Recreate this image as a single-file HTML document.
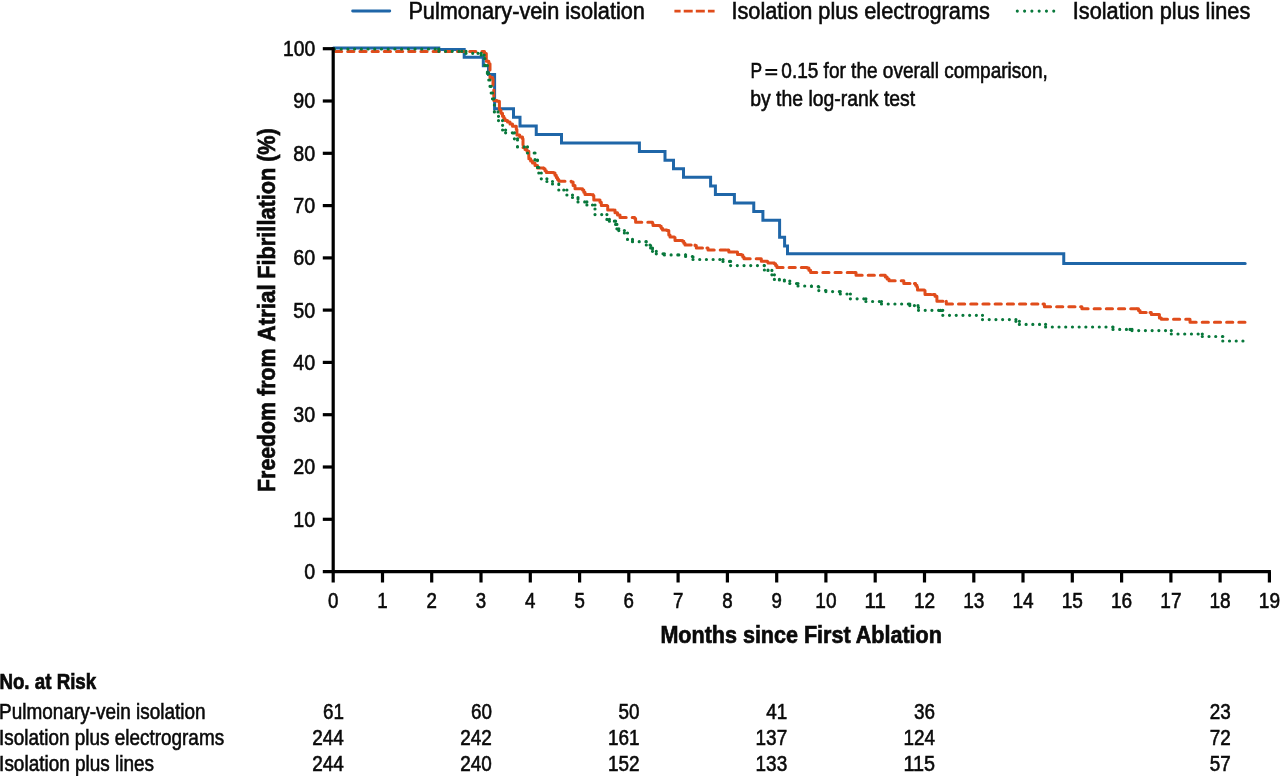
<!DOCTYPE html><html><head><meta charset="utf-8"><title>Kaplan-Meier</title>
<style>html,body{margin:0;padding:0;background:#fff;}body{width:1280px;height:776px;overflow:hidden;}svg{display:block;}text{font-family:"Liberation Sans",sans-serif;fill:#0a0a0a;}</style></head><body>
<svg style="will-change:transform" width="1280" height="776" viewBox="0 0 1280 776">
<rect width="1280" height="776" fill="#fff"/>
<line x1="352.6" y1="11" x2="389.8" y2="11" stroke="#1f66a8" stroke-width="2.8" stroke-linecap="round"/>
<text x="408.4" y="18.8" font-size="24.1" textLength="236.5" lengthAdjust="spacingAndGlyphs" stroke="#0a0a0a" stroke-width="0.6">Pulmonary-vein isolation</text>
<line x1="674.4" y1="11.1" x2="714.6" y2="11.1" stroke="#e04c1b" stroke-width="2.9" stroke-dasharray="9 3.1" stroke-dashoffset="2.8"/>
<text x="731.4" y="18.8" font-size="24.1" textLength="258.5" lengthAdjust="spacingAndGlyphs" stroke="#0a0a0a" stroke-width="0.6">Isolation plus electrograms</text>
<line x1="1017.3" y1="11.1" x2="1054.5" y2="11.1" stroke="#08783b" stroke-width="3.1" stroke-dasharray="0.01 7.28" stroke-linecap="round"/>
<text x="1072.8" y="18.8" font-size="24.1" textLength="177.5" lengthAdjust="spacingAndGlyphs" stroke="#0a0a0a" stroke-width="0.6">Isolation plus lines</text>
<text x="750.4" y="77.6" font-size="22.8" textLength="11.6" lengthAdjust="spacingAndGlyphs" stroke="#0a0a0a" stroke-width="0.6">P</text>
<path d="M765.4,70.0 H777.2 M765.4,74.3 H777.2" stroke="#0a0a0a" stroke-width="1.9" fill="none"/>
<text x="781.3" y="77.6" font-size="22.8" textLength="266.5" lengthAdjust="spacingAndGlyphs" stroke="#0a0a0a" stroke-width="0.6">0.15 for the overall comparison,</text>
<text x="750.2" y="106.4" font-size="22.8" textLength="165" lengthAdjust="spacingAndGlyphs" stroke="#0a0a0a" stroke-width="0.6">by the log-rank test</text>
<path d="M333.4,48.0 H438.8 V49.4 H464.2 V57.3 H483.3 V65.8 H488.5 V74.4 H494.6 V108.7 H513.5 V117.3 H520 V125.9 H536.25 V134.4 H561.5 V143.0 H639.4 V151.6 H665 V160.2 H673.5 V168.7 H683.5 V177.3 H710.6 V185.9 H715.4 V194.5 H734.4 V203.0 H753.75 V211.6 H762.9 V220.2 H779.6 V237.3 H784.6 V245.9 H787.5 V253.7 H1063.75 V263.6 H1245.2" fill="none" stroke="#1f66a8" stroke-width="3.0" stroke-linejoin="miter" stroke-linecap="round"/>
<path d="M335.5,51.5L483.5,51.5M483.5,51.5L484.5,51.5M484.5,51.5L484.5,53.5M484.5,53.5L486.3,53.5M486.3,53.5L486.3,61.2M486.3,61.2L488.8,61.2M488.8,61.2L488.8,63.8M488.8,63.8L490.0,63.8M490.0,63.8L490.0,77.5M490.0,77.5L492.5,77.5M492.5,77.5L492.5,78.8M493.0,78.8L493.0,90.0M493.8,90.0L493.8,100.4M493.8,100.4L497.0,100.4M497.0,100.4L497.0,101.3M497.0,101.3L499.4,101.3M499.4,101.3L499.4,102.5M499.4,102.5L499.4,110.0M499.4,110.0L500.9,110.0M500.9,110.0L500.9,113.2M500.9,113.2L502.5,113.2M502.5,113.2L502.5,116.3M502.5,116.3L503.8,116.3M503.8,116.3L503.8,118.4M503.8,118.4L505.0,118.4M505.0,118.4L505.0,120.6M505.0,120.6L507.5,120.6M507.5,120.6L507.5,121.9M507.5,121.9L510.0,121.9M510.0,121.9L510.0,124.1M510.0,124.1L512.5,124.1M512.5,124.1L512.5,126.3M512.5,126.3L516.3,126.3M516.3,126.3L516.3,129.4M516.9,129.4L516.9,135.0M516.9,135.0L519.7,135.0M519.7,135.0L519.7,136.9M519.7,136.9L522.5,136.9M522.5,136.9L522.5,138.8M523.0,138.8L523.0,147.5M523.0,147.5L525.0,147.5M525.0,147.5L525.0,149.4M525.0,149.4L526.9,149.4M526.9,149.4L526.9,151.3M526.9,151.3L528.8,151.3M528.8,151.3L528.8,158.8M528.8,158.8L530.6,158.8M530.6,158.8L530.6,160.9M530.6,160.9L532.5,160.9M532.5,160.9L532.5,163.0M532.5,163.0L535.0,163.0M535.0,163.0L535.0,165.5M535.0,165.5L537.5,165.5M537.5,165.5L537.5,168.0M537.5,168.0L543.8,168.0M543.8,168.0L543.8,168.8M543.8,168.8L545.0,168.8M545.0,168.8L545.0,170.7M545.0,170.7L546.3,170.7M546.3,170.7L546.3,172.5M546.3,172.5L553.8,172.5M553.8,172.5L553.8,173.0M553.8,173.0L555.0,173.0M555.0,173.0L555.0,175.2M555.0,175.2L556.3,175.2M556.3,175.2L556.3,177.5M556.3,177.5L557.5,177.5M557.5,177.5L557.5,179.4M557.5,179.4L558.8,179.4M558.8,179.4L558.8,181.3M558.8,181.3L571.3,181.3M571.3,181.3L571.3,182.0M571.3,182.0L573.1,182.0M573.1,182.0L573.1,185.4M573.1,185.4L575.0,185.4M575.0,185.4L575.0,188.8M575.0,188.8L582.5,188.8M582.5,188.8L582.5,190.0M582.5,190.0L583.8,190.0M583.8,190.0L583.8,192.2M583.8,192.2L585.0,192.2M585.0,192.2L585.0,194.4M585.0,194.4L593.0,194.4M593.0,194.4L593.0,195.6M593.8,195.6L593.8,200.0M593.8,200.0L600.0,200.0M600.0,200.0L600.0,202.2M600.0,202.2L601.3,202.2M601.3,202.2L601.3,205.6M601.3,205.6L607.2,205.6M607.2,205.6L607.2,206.0M607.7,206.0L607.7,210.0M607.7,210.0L615.0,210.0M615.0,210.0L615.0,212.7M615.0,212.7L617.5,212.7M617.5,212.7L617.5,215.1M617.5,215.1L620.0,215.1M620.0,215.1L620.0,217.6M620.0,217.6L634.7,217.6M634.7,217.6L634.7,218.5M635.6,218.5L635.6,222.2M635.6,222.2L652.5,222.2M652.5,222.2L652.5,223.5M653.0,223.5L653.0,225.6M653.0,225.6L660.0,225.6M660.0,225.6L660.0,226.3M660.0,226.3L661.2,226.3M661.2,226.3L661.2,228.2M661.2,228.2L662.5,228.2M662.5,228.2L662.5,230.0M662.5,230.0L666.9,230.0M666.9,230.0L666.9,230.6M666.9,230.6L668.8,230.6M668.8,230.6L668.8,235.0M668.8,235.0L670.0,235.0M670.0,235.0L670.0,236.9M670.0,236.9L674.4,236.9M674.4,236.9L674.4,237.5M675.0,237.5L675.0,240.6M675.0,240.6L682.5,240.6M682.5,240.6L682.5,241.3M682.5,241.3L683.8,241.3M683.8,241.3L683.8,243.2M683.8,243.2L685.0,243.2M685.0,243.2L685.0,245.0M685.0,245.0L695.0,245.0M695.0,245.0L695.0,245.6M695.0,245.6L696.3,245.6M696.3,245.6L696.3,248.0M696.3,248.0L706.9,248.0M706.9,248.0L708.0,248.0M708.0,248.0L708.0,250.0M708.0,250.0L727.5,250.0M727.5,250.0L728.8,250.0M728.8,250.0L728.8,251.9M728.8,251.9L736.3,251.9M736.3,251.9L737.5,251.9M737.5,251.9L737.5,254.5M737.5,254.5L741.5,254.5M741.5,254.5L741.5,255.0M741.5,255.0L742.8,255.0M742.8,255.0L742.8,256.9M742.8,256.9L744.0,256.9M744.0,256.9L744.0,258.8M744.0,258.8L760.6,258.8M761.3,258.8L761.3,261.3M761.3,261.3L767.5,261.3M767.5,261.3L767.5,261.9M768.0,261.9L768.0,263.0M768.0,263.0L774.4,263.0M774.4,263.0L774.4,263.7M774.4,263.7L775.6,263.7M775.6,263.7L775.6,265.6M775.6,265.6L776.9,265.6M776.9,265.6L776.9,267.5M776.9,267.5L807.2,267.5M807.2,267.5L807.2,267.9M807.2,267.9L808.9,267.9M808.9,267.9L808.9,270.2M808.9,270.2L810.6,270.2M810.6,270.2L810.6,272.5M810.6,272.5L854.4,272.5M854.4,272.5L856.0,272.5M856.0,272.5L856.0,275.2M856.0,275.2L883.4,275.2M883.4,275.2L885.3,275.2M885.3,275.2L885.3,277.1M885.3,277.1L887.1,277.1M887.1,277.1L887.1,278.9M887.1,278.9L889.0,278.9M889.0,278.9L889.0,280.8M889.0,280.8L901.9,280.8M901.9,280.8L903.8,280.8M903.8,280.8L903.8,283.5M903.8,283.5L914.4,283.5M914.4,283.5L915.6,283.5M915.6,283.5L915.6,285.2M915.6,285.2L916.9,285.2M916.9,285.2L916.9,286.9M917.5,286.9L917.5,290.0M917.5,290.0L924.4,290.0M924.4,290.0L924.4,290.6M925.0,290.6L925.0,294.4M925.0,294.4L933.0,294.4M933.0,294.4L935.0,294.4M935.0,294.4L935.0,296.2M935.0,296.2L936.9,296.2M936.9,296.2L936.9,298.0M936.9,298.0L936.9,301.2M936.9,301.2L945.6,301.2M946.3,301.2L946.3,304.0M946.3,304.0L1043.0,304.0M1043.0,304.0L1044.4,304.0M1044.4,304.0L1044.4,306.7M1044.4,306.7L1080.6,306.7M1080.6,306.7L1081.9,306.7M1081.9,306.7L1081.9,308.7M1081.9,308.7L1137.0,308.7M1137.0,308.7L1138.5,308.7M1138.5,308.7L1138.5,310.5M1138.5,310.5L1140.0,310.5M1140.0,310.5L1140.0,312.4M1140.0,312.4L1150.0,312.4M1150.0,312.4L1151.3,312.4M1151.3,312.4L1151.3,314.4M1151.3,314.4L1158.0,314.4M1158.0,314.4L1159.4,314.4M1159.4,314.4L1159.4,318.0M1159.4,318.0L1161.3,318.0M1161.3,318.0L1161.3,319.3M1161.3,319.3L1189.4,319.3M1190.0,319.3L1190.0,322.3M1190.0,322.3L1247.5,322.3" fill="none" stroke="#e04c1b" stroke-width="3.0" stroke-dasharray="6.2 6" stroke-linecap="round"/>
<path d="M334.5,49.0L438.8,49.0M438.8,49.0L438.8,51.3M438.8,51.3L462.0,51.3M462.0,51.3L466.0,51.3M466.0,51.3L466.0,53.3M466.0,53.3L478.0,53.3M478.0,53.3L481.2,53.3M481.2,53.3L481.2,55.1M481.2,55.1L484.2,55.1M484.2,55.1L484.2,58.5M484.8,58.5L484.8,65.5M484.8,65.5L487.4,65.5M487.4,65.5L487.4,73.5M487.4,73.5L488.8,73.5M488.8,73.5L488.8,80.0M488.8,80.0L490.0,80.0M490.0,80.0L490.0,86.3M490.0,86.3L491.2,86.3M491.2,86.3L491.2,93.0M491.2,93.0L492.5,93.0M492.5,93.0L492.5,98.8M492.5,98.8L493.7,98.8M493.7,98.8L493.7,105.0M494.4,105.0L494.4,111.9M494.4,111.9L498.0,111.9M498.0,111.9L498.0,116.3M498.5,116.3L498.5,120.6M498.5,120.6L502.5,120.6M502.5,120.6L502.5,125.3M502.6,125.3L502.6,130.0M502.6,130.0L505.6,130.0M505.6,130.0L505.6,132.8M505.6,132.8L514.4,132.8M514.4,132.8L514.4,138.8M514.4,138.8L517.5,138.8M517.5,138.8L517.5,140.0M517.5,140.0L517.5,146.9M517.5,146.9L527.5,146.9M527.5,146.9L527.5,153.0M527.5,153.0L535.0,153.0M535.0,153.0L535.0,160.0M535.0,160.0L537.5,160.0M537.5,160.0L537.5,160.6M537.5,160.6L537.5,167.5M537.5,167.5L538.8,167.5M538.8,167.5L538.8,173.0M538.8,173.0L541.3,173.0M541.3,173.0L541.3,178.8M541.3,178.8L546.9,178.8M546.9,178.8L546.9,181.5M546.9,181.5L552.5,181.5M552.5,181.5L552.5,184.0M552.5,184.0L558.8,184.0M558.8,184.0L558.8,184.4M558.8,184.4L558.8,190.0M558.8,190.0L563.8,190.0M563.8,190.0L566.9,190.0M566.9,190.0L566.9,195.0M566.9,195.0L572.5,195.0M572.5,195.0L572.5,197.5M572.5,197.5L578.0,197.5M578.0,197.5L578.0,198.8M578.0,198.8L578.0,201.9M578.0,201.9L586.3,201.9M586.9,201.9L586.9,205.0M586.9,205.0L592.5,205.0M592.5,205.0L595.0,205.0M595.0,205.0L595.0,209.0M595.0,209.0L595.0,214.6M595.0,214.6L606.5,214.6M606.9,214.6L606.9,219.4M606.9,219.4L609.4,219.4M609.4,219.4L609.4,221.2M609.4,221.2L614.4,221.2M614.4,221.2L615.6,221.2M615.6,221.2L615.6,224.4M615.6,224.4L616.9,224.4M616.9,224.4L616.9,228.8M616.9,228.8L618.8,228.8M618.8,228.8L618.8,230.6M618.8,230.6L624.4,230.6M624.4,230.6L624.4,233.0M624.4,233.0L627.5,233.0M627.5,233.0L627.5,239.4M627.5,239.4L632.5,239.4M632.5,239.4L632.5,240.0M632.5,240.0L632.5,241.7M632.5,241.7L646.3,241.7M646.3,241.7L646.3,245.0M646.3,245.0L650.0,245.0M650.0,245.0L650.0,245.6M650.6,245.6L650.6,248.0M650.6,248.0L652.5,248.0M652.5,248.0L652.5,248.8M652.5,248.8L652.5,251.3M652.5,251.3L656.3,251.3M656.3,251.3L656.3,253.8M656.3,253.8L663.8,253.8M664.4,253.8L664.4,254.9M664.4,254.9L678.8,254.9M678.8,254.9L685.6,254.9M685.6,254.9L685.6,256.5M685.6,256.5L692.5,256.5M692.5,256.5L692.5,256.9M693.0,256.9L693.0,259.5M693.0,259.5L723.0,259.5M723.0,259.5L723.0,261.4M723.0,261.4L729.5,261.4M729.5,261.4L730.6,261.4M730.6,261.4L730.6,265.6M730.6,265.6L764.4,265.6M764.4,265.6L764.4,270.0M764.4,270.0L768.0,270.0M768.0,270.0L768.0,270.4M768.0,270.4L771.9,270.4M771.9,270.4L771.9,274.8M771.9,274.8L774.4,274.8M774.4,274.8L774.4,279.4M774.4,279.4L779.4,279.4M779.4,279.4L779.4,280.0M779.4,280.0L784.4,280.0M784.4,280.0L784.4,281.0M784.4,281.0L789.4,281.0M789.8,281.0L789.8,283.5M789.8,283.5L798.0,283.5M798.0,283.5L798.0,286.0M798.0,286.0L811.5,286.0M811.5,286.0L811.5,286.5M811.5,286.5L818.5,286.5M818.5,286.5L818.5,287.0M818.8,287.0L818.8,290.6M818.8,290.6L825.9,290.6M825.9,290.6L825.9,291.6M825.9,291.6L840.0,291.6M840.3,291.6L840.3,294.0M840.3,294.0L850.3,294.0M850.4,294.0L850.4,298.8M850.4,298.8L865.9,298.8M865.9,298.8L865.9,301.5M865.9,301.5L881.5,301.5M881.5,301.5L881.5,304.0M881.5,304.0L909.4,304.0M909.8,304.0L909.8,305.6M909.8,305.6L914.4,305.6M914.4,305.6L918.0,305.6M918.0,305.6L918.0,307.5M918.5,307.5L918.5,310.3M918.5,310.3L940.6,310.3M940.6,310.3L942.8,310.3M942.8,310.3L942.8,315.3M942.8,315.3L982.5,315.3M982.5,315.3L982.5,319.6M982.5,319.6L1015.9,319.6M1015.9,319.6L1015.9,321.3M1015.9,321.3L1019.2,321.3M1019.4,321.3L1019.4,324.4M1019.4,324.4L1045.6,324.4M1045.6,324.4L1045.6,327.0M1045.6,327.0L1113.0,327.0M1113.0,327.0L1113.0,329.4M1113.0,329.4L1130.0,329.4M1130.0,329.4L1132.0,329.4M1132.0,329.4L1132.0,330.6M1132.0,330.6L1171.3,330.6M1171.3,330.6L1171.3,334.0M1171.3,334.0L1202.3,334.0M1202.3,334.0L1202.3,336.5M1202.3,336.5L1222.8,336.5M1222.8,336.5L1222.8,341.0M1222.8,341.0L1247.0,341.0" fill="none" stroke="#08783b" stroke-width="3.2" stroke-dasharray="0.01 6.7" stroke-linecap="round"/>
<g stroke="#000" stroke-width="3.2" stroke-linecap="butt" fill="none">
<path d="M333.2,47.2 V582.5"/>
<path d="M322.8,571.6 H1270.9"/>
<path d="M382.5,571.6 V582.5"/>
<path d="M431.7,571.6 V582.5"/>
<path d="M481.0,571.6 V582.5"/>
<path d="M530.3,571.6 V582.5"/>
<path d="M579.6,571.6 V582.5"/>
<path d="M628.8,571.6 V582.5"/>
<path d="M678.1,571.6 V582.5"/>
<path d="M727.4,571.6 V582.5"/>
<path d="M776.7,571.6 V582.5"/>
<path d="M825.9,571.6 V582.5"/>
<path d="M875.2,571.6 V582.5"/>
<path d="M924.5,571.6 V582.5"/>
<path d="M973.8,571.6 V582.5"/>
<path d="M1023.0,571.6 V582.5"/>
<path d="M1072.3,571.6 V582.5"/>
<path d="M1121.6,571.6 V582.5"/>
<path d="M1170.9,571.6 V582.5"/>
<path d="M1220.1,571.6 V582.5"/>
<path d="M1269.4,571.6 V582.5"/>
<path d="M322.8,519.3 H333.2"/>
<path d="M322.8,467.0 H333.2"/>
<path d="M322.8,414.7 H333.2"/>
<path d="M322.8,362.4 H333.2"/>
<path d="M322.8,310.1 H333.2"/>
<path d="M322.8,257.9 H333.2"/>
<path d="M322.8,205.6 H333.2"/>
<path d="M322.8,153.3 H333.2"/>
<path d="M322.8,101.0 H333.2"/>
<path d="M322.8,48.7 H333.2"/>
</g>
<text x="315.2" y="579.0" font-size="22.3" text-anchor="end" textLength="10.9" lengthAdjust="spacingAndGlyphs" stroke="#0a0a0a" stroke-width="0.6">0</text>
<text x="315.2" y="526.7" font-size="22.3" text-anchor="end" textLength="21.9" lengthAdjust="spacingAndGlyphs" stroke="#0a0a0a" stroke-width="0.6">10</text>
<text x="315.2" y="474.4" font-size="22.3" text-anchor="end" textLength="21.9" lengthAdjust="spacingAndGlyphs" stroke="#0a0a0a" stroke-width="0.6">20</text>
<text x="315.2" y="422.1" font-size="22.3" text-anchor="end" textLength="21.9" lengthAdjust="spacingAndGlyphs" stroke="#0a0a0a" stroke-width="0.6">30</text>
<text x="315.2" y="369.8" font-size="22.3" text-anchor="end" textLength="21.9" lengthAdjust="spacingAndGlyphs" stroke="#0a0a0a" stroke-width="0.6">40</text>
<text x="315.2" y="317.5" font-size="22.3" text-anchor="end" textLength="21.9" lengthAdjust="spacingAndGlyphs" stroke="#0a0a0a" stroke-width="0.6">50</text>
<text x="315.2" y="265.3" font-size="22.3" text-anchor="end" textLength="21.9" lengthAdjust="spacingAndGlyphs" stroke="#0a0a0a" stroke-width="0.6">60</text>
<text x="315.2" y="213.0" font-size="22.3" text-anchor="end" textLength="21.9" lengthAdjust="spacingAndGlyphs" stroke="#0a0a0a" stroke-width="0.6">70</text>
<text x="315.2" y="160.7" font-size="22.3" text-anchor="end" textLength="21.9" lengthAdjust="spacingAndGlyphs" stroke="#0a0a0a" stroke-width="0.6">80</text>
<text x="315.2" y="108.4" font-size="22.3" text-anchor="end" textLength="21.9" lengthAdjust="spacingAndGlyphs" stroke="#0a0a0a" stroke-width="0.6">90</text>
<text x="315.2" y="56.1" font-size="22.3" text-anchor="end" textLength="32.2" lengthAdjust="spacingAndGlyphs" stroke="#0a0a0a" stroke-width="0.6">100</text>
<text x="333.2" y="608.0" font-size="22.3" text-anchor="middle" textLength="10.4" lengthAdjust="spacingAndGlyphs" stroke="#0a0a0a" stroke-width="0.6">0</text>
<text x="382.5" y="608.0" font-size="22.3" text-anchor="middle" textLength="10.4" lengthAdjust="spacingAndGlyphs" stroke="#0a0a0a" stroke-width="0.6">1</text>
<text x="431.7" y="608.0" font-size="22.3" text-anchor="middle" textLength="10.4" lengthAdjust="spacingAndGlyphs" stroke="#0a0a0a" stroke-width="0.6">2</text>
<text x="481.0" y="608.0" font-size="22.3" text-anchor="middle" textLength="10.4" lengthAdjust="spacingAndGlyphs" stroke="#0a0a0a" stroke-width="0.6">3</text>
<text x="530.3" y="608.0" font-size="22.3" text-anchor="middle" textLength="10.4" lengthAdjust="spacingAndGlyphs" stroke="#0a0a0a" stroke-width="0.6">4</text>
<text x="579.6" y="608.0" font-size="22.3" text-anchor="middle" textLength="10.4" lengthAdjust="spacingAndGlyphs" stroke="#0a0a0a" stroke-width="0.6">5</text>
<text x="628.8" y="608.0" font-size="22.3" text-anchor="middle" textLength="10.4" lengthAdjust="spacingAndGlyphs" stroke="#0a0a0a" stroke-width="0.6">6</text>
<text x="678.1" y="608.0" font-size="22.3" text-anchor="middle" textLength="10.4" lengthAdjust="spacingAndGlyphs" stroke="#0a0a0a" stroke-width="0.6">7</text>
<text x="727.4" y="608.0" font-size="22.3" text-anchor="middle" textLength="10.4" lengthAdjust="spacingAndGlyphs" stroke="#0a0a0a" stroke-width="0.6">8</text>
<text x="776.7" y="608.0" font-size="22.3" text-anchor="middle" textLength="10.4" lengthAdjust="spacingAndGlyphs" stroke="#0a0a0a" stroke-width="0.6">9</text>
<text x="825.9" y="608.0" font-size="22.3" text-anchor="middle" textLength="21.2" lengthAdjust="spacingAndGlyphs" stroke="#0a0a0a" stroke-width="0.6">10</text>
<text x="875.2" y="608.0" font-size="22.3" text-anchor="middle" textLength="21.2" lengthAdjust="spacingAndGlyphs" stroke="#0a0a0a" stroke-width="0.6">11</text>
<text x="924.5" y="608.0" font-size="22.3" text-anchor="middle" textLength="21.2" lengthAdjust="spacingAndGlyphs" stroke="#0a0a0a" stroke-width="0.6">12</text>
<text x="973.8" y="608.0" font-size="22.3" text-anchor="middle" textLength="21.2" lengthAdjust="spacingAndGlyphs" stroke="#0a0a0a" stroke-width="0.6">13</text>
<text x="1023.0" y="608.0" font-size="22.3" text-anchor="middle" textLength="21.2" lengthAdjust="spacingAndGlyphs" stroke="#0a0a0a" stroke-width="0.6">14</text>
<text x="1072.3" y="608.0" font-size="22.3" text-anchor="middle" textLength="21.2" lengthAdjust="spacingAndGlyphs" stroke="#0a0a0a" stroke-width="0.6">15</text>
<text x="1121.6" y="608.0" font-size="22.3" text-anchor="middle" textLength="21.2" lengthAdjust="spacingAndGlyphs" stroke="#0a0a0a" stroke-width="0.6">16</text>
<text x="1170.9" y="608.0" font-size="22.3" text-anchor="middle" textLength="21.2" lengthAdjust="spacingAndGlyphs" stroke="#0a0a0a" stroke-width="0.6">17</text>
<text x="1220.1" y="608.0" font-size="22.3" text-anchor="middle" textLength="21.2" lengthAdjust="spacingAndGlyphs" stroke="#0a0a0a" stroke-width="0.6">18</text>
<text x="1269.4" y="608.0" font-size="22.3" text-anchor="middle" textLength="21.2" lengthAdjust="spacingAndGlyphs" stroke="#0a0a0a" stroke-width="0.6">19</text>
<text x="660.4" y="643.0" font-size="24.4" font-weight="bold" textLength="281.5" lengthAdjust="spacingAndGlyphs" stroke="#0a0a0a" stroke-width="0.7">Months since First Ablation</text>
<text transform="translate(274.7,491.90) rotate(-90)" font-size="24.7" font-weight="bold" stroke="#0a0a0a" stroke-width="0.7" textLength="89.90" lengthAdjust="spacingAndGlyphs">Freedom</text>
<text transform="translate(274.7,395.90) rotate(-90)" font-size="24.7" font-weight="bold" stroke="#0a0a0a" stroke-width="0.7" textLength="47.50" lengthAdjust="spacingAndGlyphs">from</text>
<text transform="translate(274.7,341.50) rotate(-90)" font-size="24.7" font-weight="bold" stroke="#0a0a0a" stroke-width="0.7" textLength="57.10" lengthAdjust="spacingAndGlyphs">Atrial</text>
<text transform="translate(274.7,278.80) rotate(-90)" font-size="24.7" font-weight="bold" stroke="#0a0a0a" stroke-width="0.7" textLength="111.20" lengthAdjust="spacingAndGlyphs">Fibrillation</text>
<text transform="translate(274.7,161.80) rotate(-90)" font-size="24.7" font-weight="bold" stroke="#0a0a0a" stroke-width="0.7" textLength="33.50" lengthAdjust="spacingAndGlyphs">(%)</text>
<text x="-0.6" y="689.4" font-size="22.3" font-weight="bold" textLength="96.8" lengthAdjust="spacingAndGlyphs" stroke="#0a0a0a" stroke-width="0.7">No. at Risk</text>
<text x="-0.9" y="718.6999999999999" font-size="22.6" textLength="206.5" lengthAdjust="spacingAndGlyphs" stroke="#0a0a0a" stroke-width="0.6">Pulmonary-vein isolation</text>
<text x="343.9" y="718.6999999999999" font-size="22.0" text-anchor="end" textLength="21.0" lengthAdjust="spacingAndGlyphs" stroke="#0a0a0a" stroke-width="0.6">61</text>
<text x="491.9" y="718.6999999999999" font-size="22.0" text-anchor="end" textLength="21.0" lengthAdjust="spacingAndGlyphs" stroke="#0a0a0a" stroke-width="0.6">60</text>
<text x="639.5" y="718.6999999999999" font-size="22.0" text-anchor="end" textLength="21.0" lengthAdjust="spacingAndGlyphs" stroke="#0a0a0a" stroke-width="0.6">50</text>
<text x="787.2" y="718.6999999999999" font-size="22.0" text-anchor="end" textLength="21.0" lengthAdjust="spacingAndGlyphs" stroke="#0a0a0a" stroke-width="0.6">41</text>
<text x="935.0" y="718.6999999999999" font-size="22.0" text-anchor="end" textLength="21.0" lengthAdjust="spacingAndGlyphs" stroke="#0a0a0a" stroke-width="0.6">36</text>
<text x="1230.8" y="718.6999999999999" font-size="22.0" text-anchor="end" textLength="21.0" lengthAdjust="spacingAndGlyphs" stroke="#0a0a0a" stroke-width="0.6">23</text>
<text x="-0.9" y="745.0" font-size="22.6" textLength="225" lengthAdjust="spacingAndGlyphs" stroke="#0a0a0a" stroke-width="0.6">Isolation plus electrograms</text>
<text x="343.9" y="745.0" font-size="22.0" text-anchor="end" textLength="31.6" lengthAdjust="spacingAndGlyphs" stroke="#0a0a0a" stroke-width="0.6">244</text>
<text x="491.9" y="745.0" font-size="22.0" text-anchor="end" textLength="31.6" lengthAdjust="spacingAndGlyphs" stroke="#0a0a0a" stroke-width="0.6">242</text>
<text x="639.5" y="745.0" font-size="22.0" text-anchor="end" textLength="31.6" lengthAdjust="spacingAndGlyphs" stroke="#0a0a0a" stroke-width="0.6">161</text>
<text x="787.2" y="745.0" font-size="22.0" text-anchor="end" textLength="31.6" lengthAdjust="spacingAndGlyphs" stroke="#0a0a0a" stroke-width="0.6">137</text>
<text x="935.0" y="745.0" font-size="22.0" text-anchor="end" textLength="31.6" lengthAdjust="spacingAndGlyphs" stroke="#0a0a0a" stroke-width="0.6">124</text>
<text x="1230.8" y="745.0" font-size="22.0" text-anchor="end" textLength="21.0" lengthAdjust="spacingAndGlyphs" stroke="#0a0a0a" stroke-width="0.6">72</text>
<text x="-0.9" y="771.4" font-size="22.6" textLength="155" lengthAdjust="spacingAndGlyphs" stroke="#0a0a0a" stroke-width="0.6">Isolation plus lines</text>
<text x="343.9" y="771.4" font-size="22.0" text-anchor="end" textLength="31.6" lengthAdjust="spacingAndGlyphs" stroke="#0a0a0a" stroke-width="0.6">244</text>
<text x="491.9" y="771.4" font-size="22.0" text-anchor="end" textLength="31.6" lengthAdjust="spacingAndGlyphs" stroke="#0a0a0a" stroke-width="0.6">240</text>
<text x="639.5" y="771.4" font-size="22.0" text-anchor="end" textLength="31.6" lengthAdjust="spacingAndGlyphs" stroke="#0a0a0a" stroke-width="0.6">152</text>
<text x="787.2" y="771.4" font-size="22.0" text-anchor="end" textLength="31.6" lengthAdjust="spacingAndGlyphs" stroke="#0a0a0a" stroke-width="0.6">133</text>
<text x="935.0" y="771.4" font-size="22.0" text-anchor="end" textLength="31.6" lengthAdjust="spacingAndGlyphs" stroke="#0a0a0a" stroke-width="0.6">115</text>
<text x="1230.8" y="771.4" font-size="22.0" text-anchor="end" textLength="21.0" lengthAdjust="spacingAndGlyphs" stroke="#0a0a0a" stroke-width="0.6">57</text>
</svg></body></html>
